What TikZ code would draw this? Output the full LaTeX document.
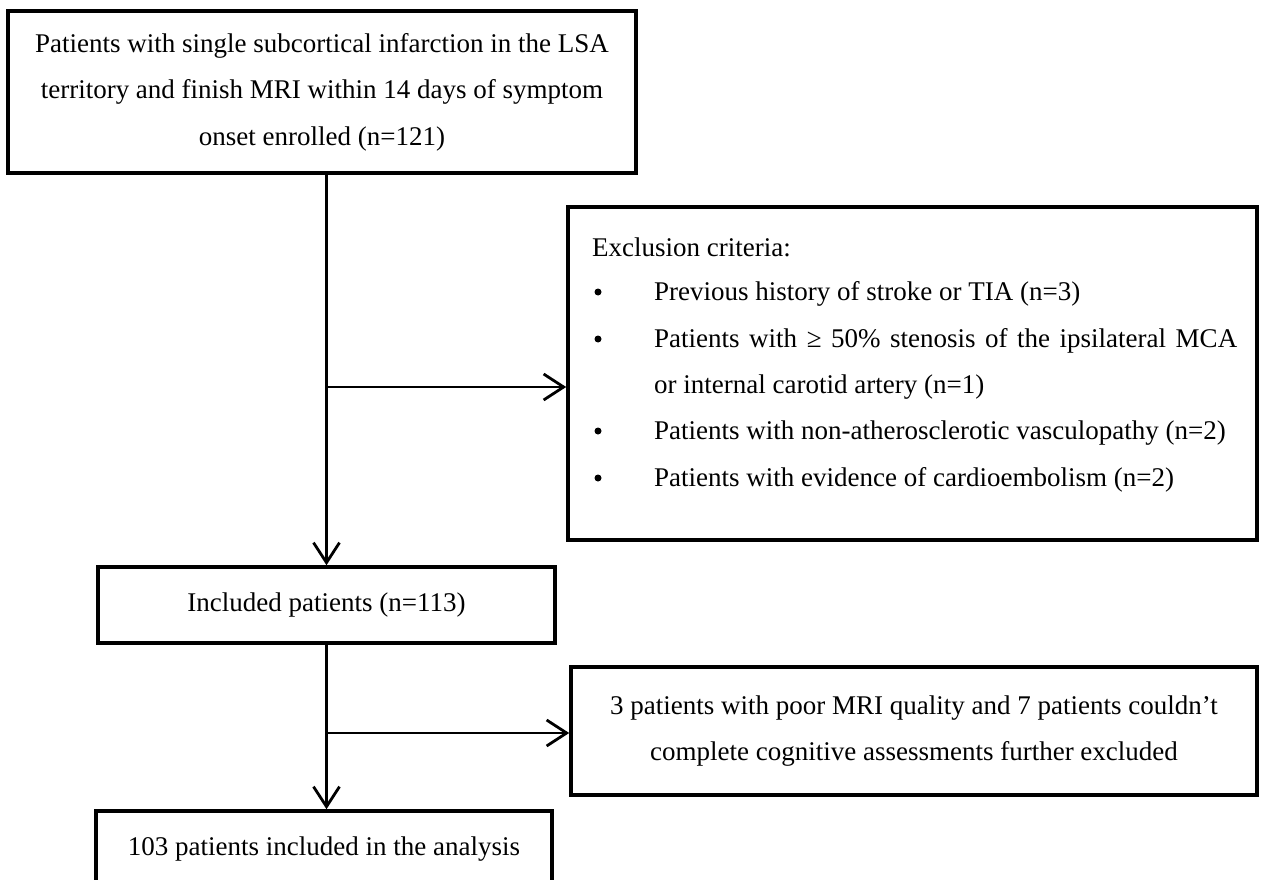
\documentclass[tikz,border=0pt]{standalone}
\usepackage{fontspec}
\setmainfont{Liberation Serif}
\usetikzlibrary{arrows.meta}
\begin{document}
\begin{tikzpicture}[x=1pt,y=-1pt,
  every node/.style={font=\fontsize{27}{46.5}\selectfont},
  box/.style={draw=black, line width=3.6pt, inner sep=0pt, align=center},
  conn/.style={line width=2.8pt, -{Straight Barb[length=20pt,width=26pt]}},
  txt/.style={anchor=base west, inner sep=0pt},
  dot/.style={circle, fill=black, inner sep=0pt, minimum size=7pt}]
\useasboundingbox[fill=white] (0,0) rectangle (1261,880);
\clip (0,0) rectangle (1261,880);

% boxes
\node[box, minimum width=628pt, minimum height=162pt] (top) at (322,92)
  {Patients with single subcortical infarction in the LSA\\territory and finish MRI within 14 days of symptom\\onset enrolled (n=121)};
\node[box, minimum width=689pt, minimum height=333pt] (excl) at (912.5,373.5) {};
\node[box, minimum width=457pt, minimum height=76pt] (inc) at (326.5,605) {Included patients (n=113)};
\node[box, minimum width=686pt, minimum height=128pt] (excl2) at (914,731)
  {3 patients with poor MRI quality and 7 patients couldn’t\\complete cognitive assessments further excluded};
\node[box, minimum width=456pt, minimum height=76pt] (fin) at (324,849) {103 patients included in the analysis};

% exclusion criteria text
\node[txt] (hdr) at (592,256) {Exclusion criteria:};
\node[dot] (b1) at (598,292) {};
\node[txt] (l1) at (654,300) {Previous history of stroke or TIA (n=3)};
\node[dot] (b2) at (598,339) {};
\node[txt] (l2) at (654,347) {\makebox[583pt][s]{Patients with ≥ 50\% stenosis of the ipsilateral MCA}};
\node[txt] (l3) at (654,393) {or internal carotid artery (n=1)};
\node[dot] (b3) at (598,431) {};
\node[txt] (l4) at (654,439) {Patients with non-atherosclerotic vasculopathy (n=2)};
\node[dot] (b4) at (598,478) {};
\node[txt] (l5) at (654,486) {Patients with evidence of cardioembolism (n=2)};

% connectors
\coordinate (j1) at (326.5,387);
\coordinate (j2) at (326.5,733);
\draw[conn] (top.south -| inc.north) -- (inc.north);
\draw[conn] (j1) -- (j1 -| excl.west);
\draw[conn] (inc.south) -- (fin.north -| inc.south);
\draw[conn] (j2) -- (j2 -| excl2.west);
\end{tikzpicture}
\end{document}
